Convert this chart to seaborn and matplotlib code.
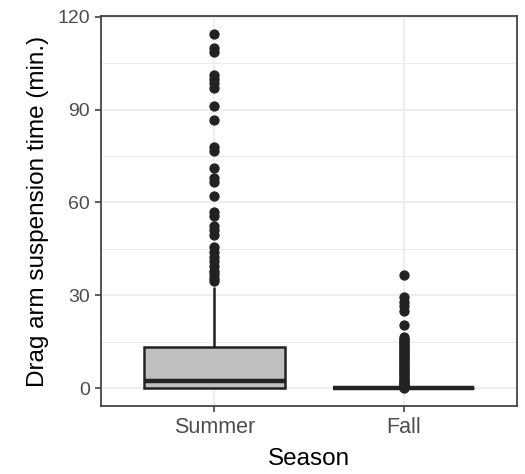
import matplotlib
matplotlib.use("Agg")
import matplotlib.pyplot as plt
import seaborn as sns
import pandas as pd

# ---- data ----
seasons = ["Summer", "Fall"]

summer_values = [
    0, 0, 0, 0, 0, 0, 0, 0, 0, 0, 0, 0, 0, 0, 0, 0, 0, 0, 0, 0,
    0, 0, 0, 0, 0, 0, 0, 0, 0, 0, 0,
    0.1, 0.1, 0.2, 0.2, 0.3, 0.3, 0.4, 0.5, 0.5, 0.6, 0.7, 0.8, 0.8, 0.9,
    1.0, 1.0, 1.1, 1.2, 1.3, 1.4, 1.5, 1.6, 1.7, 1.8, 1.9, 2.0, 2.1, 2.2, 2.2,
    2.3,
    2.5, 2.8, 3.0, 3.3, 3.6, 4.0, 4.3, 4.7, 5.0, 5.4, 5.8, 6.1, 6.5, 6.9,
    7.3, 7.7, 8.0, 8.4, 8.8, 9.2, 9.6, 10.0, 10.4, 10.8, 11.2, 11.6, 12.0,
    12.5, 13.0,
    13.3,
    32.7,
    34.5, 35.5, 37, 38, 39.5, 41, 42.5, 44, 45.5, 49.5, 51, 52.5, 55.5, 57,
    62, 66.5, 68, 71, 76.5, 78, 86.5, 91, 97, 98.5, 100, 101, 108.5, 110, 114.5,
]

fall_zero_count = 150
fall_nonzero_values = [
    0.2, 0.5, 0.8, 1.0, 1.3, 1.7, 2.0, 2.5, 3.0, 3.5, 4.0, 4.5, 5.0, 5.5,
    6.0, 6.5, 7.0, 7.5, 8.0, 8.5, 9.0, 9.5, 10.0, 10.5, 11.0, 11.5, 12.0,
    12.5, 13.0, 13.5, 14.0, 14.5, 15.0, 15.5, 16.0, 16.5,
    20.5, 25.0, 26.5, 28.0, 29.5, 36.5,
]
fall_values = [0.0] * fall_zero_count + fall_nonzero_values

y_ticks = [0, 30, 60, 90, 120]
y_minor_ticks = [15, 45, 75, 105]

df = pd.DataFrame({
    "Season": [seasons[0]] * len(summer_values) + [seasons[1]] * len(fall_values),
    "time": summer_values + fall_values,
})

# ---- style ----
sns.set_theme(style="white")
plt.rcParams["font.family"] = ["Liberation Sans", "DejaVu Sans"]

fig = plt.figure(figsize=(5.25, 4.74), dpi=100)
ax = fig.add_axes([101 / 525, 1 - 406 / 474, 416 / 525, 390 / 474])

line_c = "#222222"
sns.boxplot(
    data=df, x="Season", y="time", order=seasons, ax=ax,
    color="#BFBFBF", saturation=1, width=0.75, linecolor=line_c, linewidth=1.8,
    showcaps=False,
    flierprops=dict(marker="o", markerfacecolor=line_c, markeredgecolor=line_c,
                    markersize=6.4),
    medianprops=dict(color=line_c, linewidth=3.2),
    whiskerprops=dict(color=line_c, linewidth=1.8),
    boxprops=dict(edgecolor=line_c, linewidth=1.8),
)

ax.set_xlim(-0.6, 1.6)
ax.set_ylim(-5.7, 120.2)
ax.set_yticks(y_ticks)
ax.set_yticks(y_minor_ticks, minor=True)
ax.set_yticklabels([str(t) for t in y_ticks])

ax.grid(True, which="major", axis="both", color="#EBEBEB", linewidth=1.2, zorder=0)
ax.grid(True, which="minor", axis="y", color="#EBEBEB", linewidth=0.7, zorder=0)
ax.set_axisbelow(True)

for s in ax.spines.values():
    s.set_color("#444444")
    s.set_linewidth(1.3)

ax.tick_params(axis="both", which="major", length=4, width=1.1, color="#333333",
               labelcolor="#4D4D4D", pad=4, direction="out",
               bottom=True, left=True)
ax.tick_params(axis="y", which="major", labelsize=14)
ax.tick_params(axis="x", which="major", labelsize=15.5)
ax.tick_params(axis="y", which="minor", length=0)

ax.set_xlabel("Season", fontsize=17.5, color="black", labelpad=7)
ax.set_ylabel("Drag arm suspension time (min.)", fontsize=17.5, color="black",
              labelpad=6)

fig.savefig("out.png", dpi=100, facecolor="white")
